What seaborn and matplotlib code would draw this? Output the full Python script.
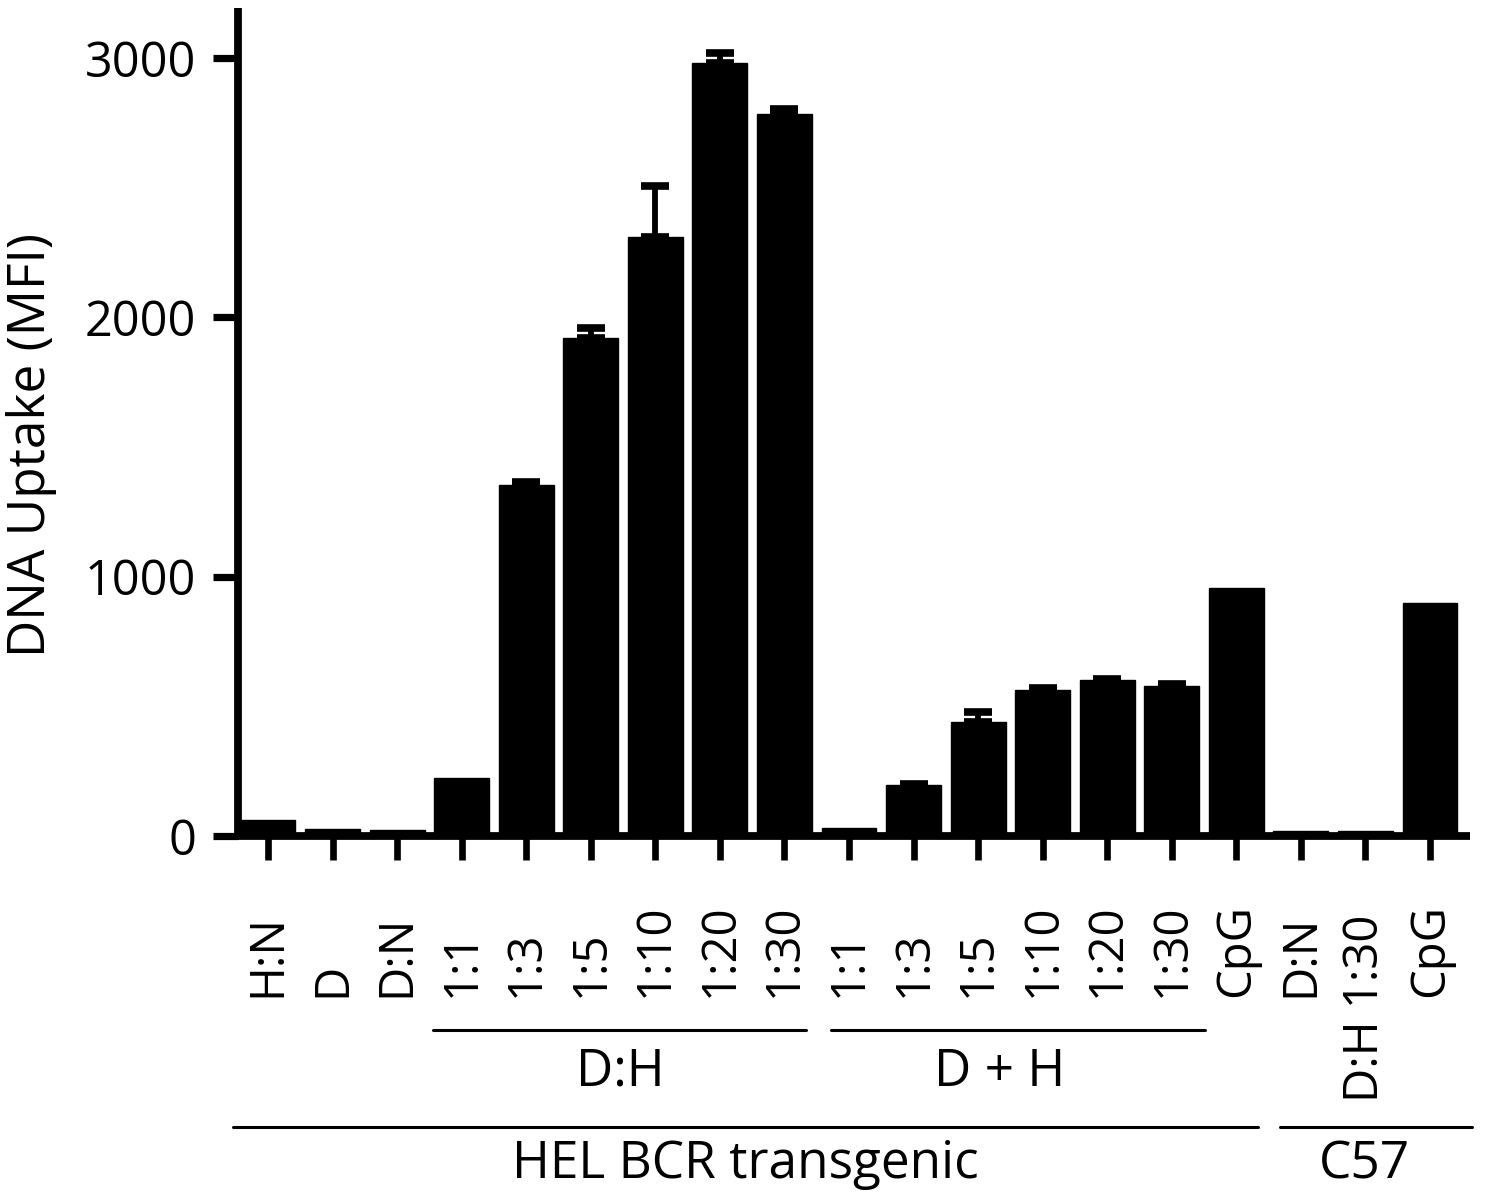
import numpy as np
import pandas as pd
import matplotlib
matplotlib.use("Agg")
import matplotlib.pyplot as plt
import matplotlib.transforms as mtransforms
import seaborn as sns

# ---------------- data ----------------
categories = ["H:N", "D", "D:N", "1:1", "1:3", "1:5", "1:10", "1:20", "1:30",
              "1:1 ", "1:3 ", "1:5 ", "1:10 ", "1:20 ", "1:30 ", "CpG",
              "D:N ", "D:H 1:30", "CpG "]
tick_labels = ["H:N", "D", "D:N", "1:1", "1:3", "1:5", "1:10", "1:20", "1:30",
               "1:1", "1:3", "1:5", "1:10", "1:20", "1:30", "CpG",
               "D:N", "D:H 1:30", "CpG"]
values = [60, 28, 22, 225, 1355, 1920, 2310, 2980, 2784,
          32, 195, 440, 563, 603, 578, 958,
          20, 20, 898]
errors = [0, 0, 0, 0, 12, 40, 195, 40, 18,
          0, 4, 40, 8, 4, 10, 0,
          0, 0, 0]
y_ticks = [0, 1000, 2000, 3000]
sub_groups = ["D:H", "D + H"]
main_groups = ["HEL BCR transgenic", "C57"]

df = pd.DataFrame({"cond": categories, "mfi": values})

# ---------------- figure ----------------
sns.set_style("ticks")
plt.rcParams["font.family"] = ["Open Sans", "DejaVu Sans"]
for k in ["text.color", "axes.labelcolor", "xtick.color", "ytick.color",
          "axes.edgecolor"]:
    plt.rcParams[k] = "black"

W, H = 1488, 1203
fig = plt.figure(figsize=(W / 100, H / 100), dpi=100)
ax = fig.add_axes([238 / W, 1 - 836 / H, (1470 - 238) / W, (836 - 8) / H])

sns.barplot(data=df, x="cond", y="mfi", color="black", width=0.85,
            edgecolor="black", linewidth=1, errorbar=None, ax=ax,
            saturation=1)

x = np.arange(len(values))
vals = np.array(values, dtype=float)
errs = np.array(errors, dtype=float)
m = errs > 0
ax.errorbar(x[m], vals[m], yerr=[np.zeros(m.sum()), errs[m]], fmt="none",
            ecolor="black", elinewidth=4.2, capsize=10, capthick=5.5, zorder=3)

ax.set_xlim(-0.465, 18.62)
ax.set_ylim(0, 3193)
ax.set_yticks(y_ticks)
ax.set_yticklabels([str(t) for t in y_ticks], fontsize=35)
ax.tick_params(axis="y", length=18, width=5.2, pad=12, direction="out",
               colors="black")
ax.tick_params(axis="x", length=17, width=4.8, direction="out", colors="black")
ax.set_xticks(x)
ax.set_xticklabels([""] * len(x))
ax.set_xlabel("")

for s in ["top", "right"]:
    ax.spines[s].set_visible(False)
for s in ["left", "bottom"]:
    ax.spines[s].set_linewidth(5.6)
    ax.spines[s].set_color("black")
    ax.spines[s].set_capstyle("butt")

ax.set_ylabel("DNA Uptake (MFI)", fontsize=37, color="black")
ax.yaxis.set_label_coords(-0.147, 0.472)

# x category labels (rotated, aligned at their start)
tr = mtransforms.blended_transform_factory(ax.transData, fig.transFigure)
for xi, lab in zip(x, tick_labels):
    if lab == "D:H 1:30":
        ax.text(xi, 1 - 1008 / H, lab, rotation=90, ha="center", va="center",
                fontsize=34, transform=tr, clip_on=False)
    else:
        ax.text(xi, 1 - 997 / H, lab, rotation=90, ha="center", va="bottom",
                fontsize=34, transform=tr, clip_on=False)

def px2x(px):
    return (px - 268) / 64.56

# sub-group lines & labels
y_sub = 1 - 1030 / H
ax.plot([px2x(433), px2x(806)], [y_sub, y_sub], color="black", lw=2.2,
        transform=tr, clip_on=False)
ax.plot([px2x(831), px2x(1205)], [y_sub, y_sub], color="black", lw=2.2,
        transform=tr, clip_on=False)
ax.text(px2x(620), 1 - 1072 / H, sub_groups[0], ha="center", va="center",
        fontsize=37, transform=tr)
ax.text(px2x(1000), 1 - 1072 / H, sub_groups[1], ha="center", va="center",
        fontsize=37, transform=tr)

# main-group lines & labels
y_main = 1 - 1127 / H
ax.plot([px2x(233), px2x(1258)], [y_main, y_main], color="black", lw=2.2,
        transform=tr, clip_on=False)
ax.plot([px2x(1280), px2x(1472)], [y_main, y_main], color="black", lw=2.2,
        transform=tr, clip_on=False)
ax.text(px2x(745), 1 - 1165 / H, main_groups[0], ha="center", va="center",
        fontsize=37, transform=tr)
ax.text(px2x(1365), 1 - 1165 / H, main_groups[1], ha="center", va="center",
        fontsize=37, transform=tr)

fig.savefig("out.png", dpi=100, facecolor="white")
